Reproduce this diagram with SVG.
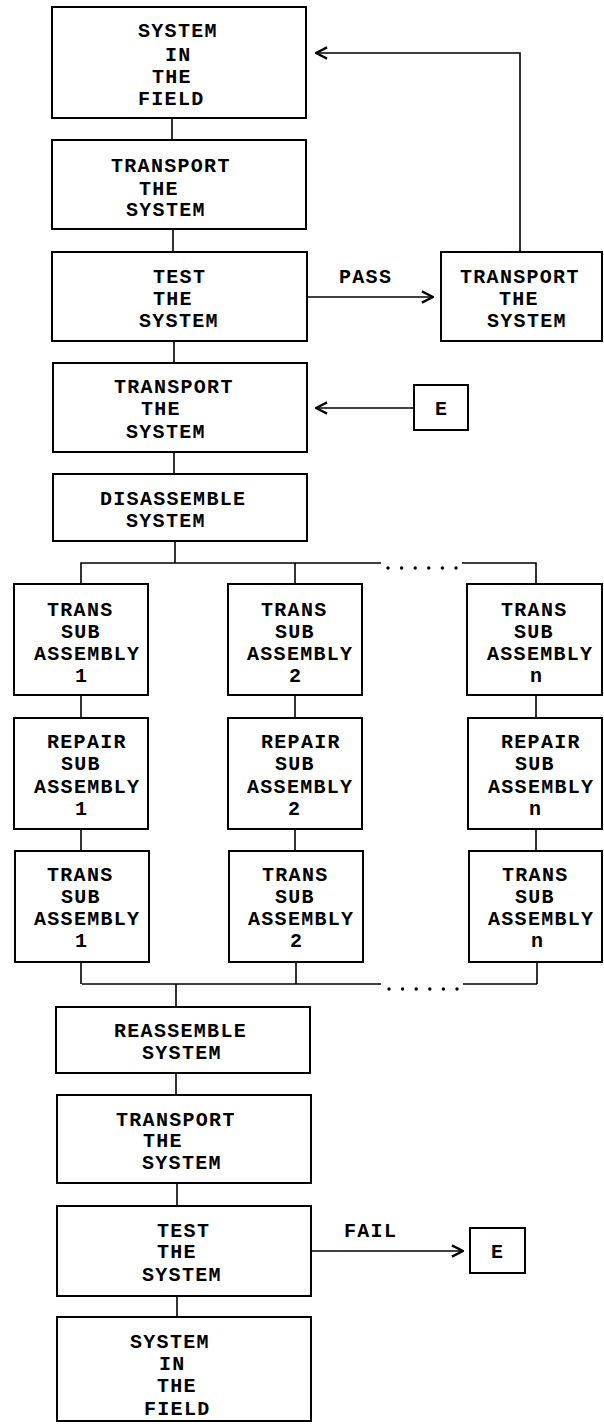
<svg xmlns="http://www.w3.org/2000/svg" width="604" height="1424" viewBox="0 0 604 1424">
<style>
rect.box{fill:#fff;stroke:#000;stroke-width:2}
.conn path{fill:none;stroke:#000;stroke-width:1.6}
.arrow{marker-end:url(#chev)}
text{font-family:"Liberation Mono","Courier New",monospace;font-weight:bold;font-size:20px;letter-spacing:1.3px;fill:#000}
circle.dot{fill:#000}
</style>
<defs>
<marker id="chev" markerUnits="userSpaceOnUse" markerWidth="14" markerHeight="14" viewBox="0 0 12 12" refX="11" refY="6" orient="auto">
<path d="M1.5,1.2 L11,6 L1.5,10.8" fill="none" stroke="#000" stroke-width="2"/>
</marker>
</defs>
<rect width="604" height="1424" fill="#fff"/>
<g class="conn" id="connectors">
<path d="M172,118 V140"/>
<path d="M173,229 V252"/>
<path d="M174,341 V363"/>
<path d="M174,452 V474"/>
<path d="M175,541 V563"/>
<path d="M81,584 V563 H381"/>
<path d="M295,563 V584"/>
<path d="M462,563 H536 V584"/>
<path d="M81,695 V718 M81,829 V851 M81,962 V984"/>
<path d="M295,695 V718 M295,829 V851 M296,962 V984"/>
<path d="M536,695 V718 M536,829 V851 M537,962 V984"/>
<path d="M82,984 H381"/>
<path d="M463,984 H537"/>
<path d="M176,984 V1007"/>
<path d="M176,1073 V1095"/>
<path d="M177,1183 V1206"/>
<path d="M177,1296 V1317"/>
<path class="arrow" d="M520,252 V53 H316"/>
<path class="arrow" d="M307,297 H433"/>
<path class="arrow" d="M414,408 H316"/>
<path class="arrow" d="M311,1251 H463"/>
<circle class="dot" cx="388" cy="568" r="1.7"/><circle class="dot" cx="401.6" cy="568" r="1.7"/><circle class="dot" cx="415.2" cy="568" r="1.7"/><circle class="dot" cx="428.8" cy="568" r="1.7"/><circle class="dot" cx="442.4" cy="568" r="1.7"/><circle class="dot" cx="456" cy="568" r="1.7"/>
<circle class="dot" cx="389" cy="989" r="1.7"/><circle class="dot" cx="402.6" cy="989" r="1.7"/><circle class="dot" cx="416.2" cy="989" r="1.7"/><circle class="dot" cx="429.8" cy="989" r="1.7"/><circle class="dot" cx="443.4" cy="989" r="1.7"/><circle class="dot" cx="457" cy="989" r="1.7"/>
<text x="339" y="283">PASS</text>
<text x="344" y="1237">FAIL</text>
</g>
<g id="n_field1"><rect class="box" x="52" y="7" width="254" height="111"/>
<text x="138" y="37">SYSTEM</text><text x="165" y="61">IN</text><text x="152" y="83">THE</text><text x="138" y="105">FIELD</text></g>
<g id="n_transport1"><rect class="box" x="52" y="140" width="254" height="89"/>
<text x="111" y="172">TRANSPORT</text><text x="139" y="195">THE</text><text x="126" y="216">SYSTEM</text></g>
<g id="n_test1"><rect class="box" x="52" y="252" width="255" height="89"/>
<text x="153" y="283">TEST</text><text x="153" y="305">THE</text><text x="139" y="327">SYSTEM</text></g>
<g id="n_transport_back"><rect class="box" x="441" y="252" width="161" height="89"/>
<text x="460" y="283">TRANSPORT</text><text x="499" y="305">THE</text><text x="487" y="327">SYSTEM</text></g>
<g id="n_transport2"><rect class="box" x="53" y="363" width="254" height="89"/>
<text x="114" y="393">TRANSPORT</text><text x="141" y="415">THE</text><text x="126" y="438">SYSTEM</text></g>
<g id="n_e1"><rect class="box" x="414" y="385" width="54" height="45"/>
<text x="435" y="415">E</text></g>
<g id="n_disassemble"><rect class="box" x="53" y="474" width="254" height="67"/>
<text x="100" y="505">DISASSEMBLE</text><text x="126" y="527">SYSTEM</text></g>
<g id="n_trans1a"><rect class="box" x="14" y="584" width="134" height="111"/>
<text x="47" y="616">TRANS</text><text x="61" y="638">SUB</text><text x="34" y="660">ASSEMBLY</text><text x="75" y="682">1</text></g>
<g id="n_trans2a"><rect class="box" x="228" y="584" width="134" height="111"/>
<text x="261" y="616">TRANS</text><text x="275" y="638">SUB</text><text x="247" y="660">ASSEMBLY</text><text x="289" y="682">2</text></g>
<g id="n_transna"><rect class="box" x="467" y="584" width="135" height="111"/>
<text x="501" y="616">TRANS</text><text x="514" y="638">SUB</text><text x="487" y="660">ASSEMBLY</text><text x="530" y="682">n</text></g>
<g id="n_repair1"><rect class="box" x="14" y="718" width="134" height="111"/>
<text x="47" y="748">REPAIR</text><text x="61" y="770">SUB</text><text x="34" y="793">ASSEMBLY</text><text x="75" y="815">1</text></g>
<g id="n_repair2"><rect class="box" x="228" y="718" width="134" height="111"/>
<text x="261" y="748">REPAIR</text><text x="275" y="770">SUB</text><text x="247" y="793">ASSEMBLY</text><text x="288" y="815">2</text></g>
<g id="n_repairn"><rect class="box" x="468" y="718" width="134" height="111"/>
<text x="501" y="748">REPAIR</text><text x="515" y="770">SUB</text><text x="488" y="793">ASSEMBLY</text><text x="529" y="815">n</text></g>
<g id="n_trans1b"><rect class="box" x="15" y="851" width="134" height="111"/>
<text x="47" y="881">TRANS</text><text x="61" y="903">SUB</text><text x="34" y="925">ASSEMBLY</text><text x="75" y="947">1</text></g>
<g id="n_trans2b"><rect class="box" x="229" y="851" width="134" height="111"/>
<text x="262" y="881">TRANS</text><text x="275" y="903">SUB</text><text x="248" y="925">ASSEMBLY</text><text x="290" y="947">2</text></g>
<g id="n_transnb"><rect class="box" x="469" y="851" width="133" height="111"/>
<text x="502" y="881">TRANS</text><text x="515" y="903">SUB</text><text x="488" y="925">ASSEMBLY</text><text x="531" y="947">n</text></g>
<g id="n_reassemble"><rect class="box" x="56" y="1007" width="254" height="66"/>
<text x="114" y="1037">REASSEMBLE</text><text x="142" y="1059">SYSTEM</text></g>
<g id="n_transport3"><rect class="box" x="57" y="1095" width="254" height="88"/>
<text x="116" y="1126">TRANSPORT</text><text x="143" y="1147">THE</text><text x="142" y="1169">SYSTEM</text></g>
<g id="n_test2"><rect class="box" x="57" y="1206" width="254" height="90"/>
<text x="157" y="1237">TEST</text><text x="157" y="1258">THE</text><text x="142" y="1281">SYSTEM</text></g>
<g id="n_e2"><rect class="box" x="470" y="1228" width="55" height="45"/>
<text x="491" y="1258">E</text></g>
<g id="n_field2"><rect class="box" x="57" y="1317" width="254" height="104"/>
<text x="130" y="1348">SYSTEM</text><text x="159" y="1370">IN</text><text x="157" y="1392">THE</text><text x="144" y="1415">FIELD</text></g>
</svg>
